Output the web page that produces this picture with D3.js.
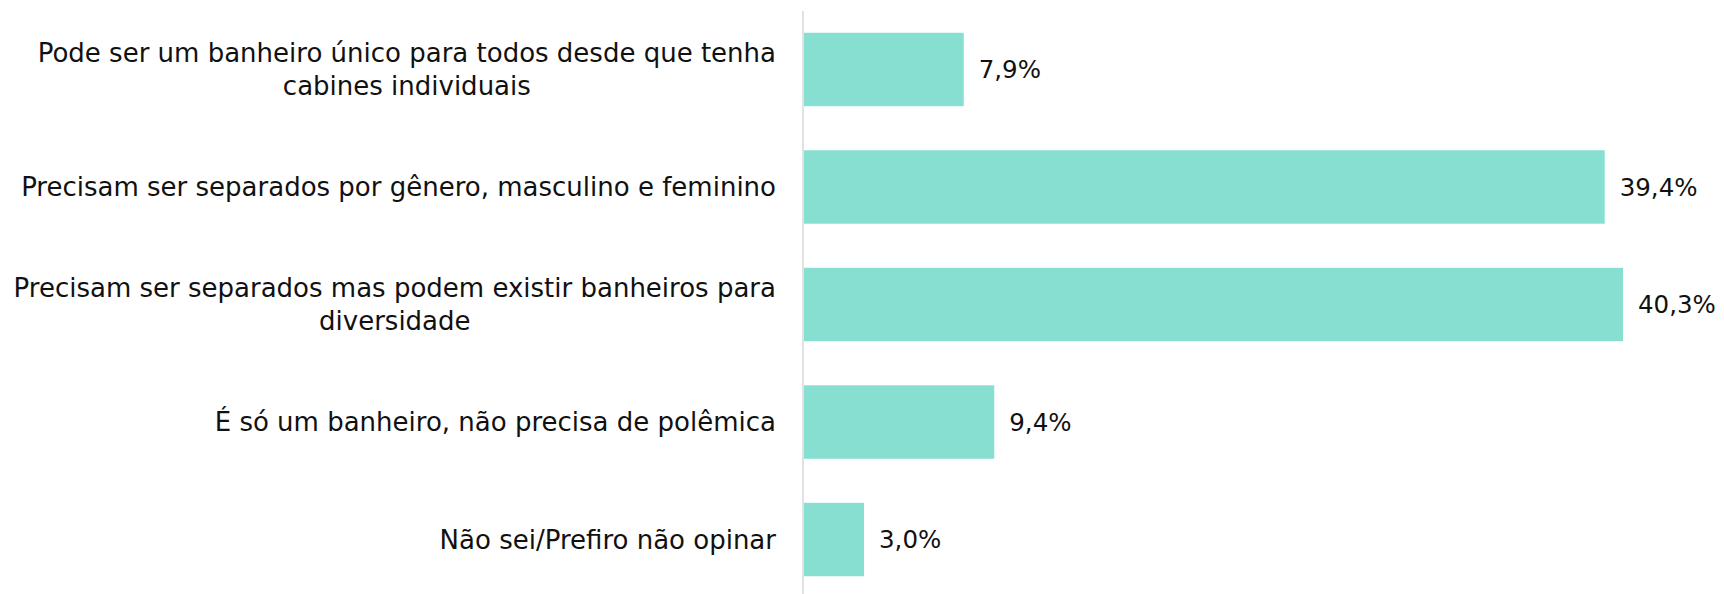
<!DOCTYPE html>
<html>
<head>
<meta charset="utf-8">
<script src="https://cdn.jsdelivr.net/npm/d3@7"></script>
<style>
  body { margin: 0; background: #fff; }
</style>
</head>
<body>
<div id="bar-chart"></div>
<script>
// Data
const categories = [
  ["Pode ser um banheiro único para todos desde que tenha", "cabines individuais"],
  ["Precisam ser separados por gênero, masculino e feminino"],
  ["Precisam ser separados mas podem existir banheiros para", "diversidade"],
  ["É só um banheiro, não precisa de polêmica"],
  ["Não sei/Prefiro não opinar"]
];
const values = [7.9, 39.4, 40.3, 9.4, 3.0];
const valueLabels = ["7,9%", "39,4%", "40,3%", "9,4%", "3,0%"];

const width = 1724, height = 594;
const axisX = 803;
const fontFamily = "'DejaVu Sans', sans-serif";

const svg = d3.select("#bar-chart")
    .append("svg")
    .attr("width", width)
    .attr("height", height);

const rows = values.map((v, i) => ({i: i, v: v, lines: categories[i], label: valueLabels[i]}));

// Scales
const x = d3.scaleLinear()
    .domain([0, 40.3])
    .range([axisX, 1623]);

const y = d3.scaleBand()
    .domain(d3.range(values.length))
    .range([21, 588])
    .paddingInner(0.375)
    .paddingOuter(0.1);

// Vertical axis line
svg.append("line")
    .attr("x1", axisX)
    .attr("x2", axisX)
    .attr("y1", 11)
    .attr("y2", height)
    .attr("stroke", "#d9d9d9")
    .attr("stroke-width", 1.5);

// Bars
svg.selectAll("rect.bar")
    .data(rows)
    .join("rect")
    .attr("class", "bar")
    .attr("x", x(0) + 1)
    .attr("y", d => y(d.i))
    .attr("width", d => x(d.v) - x(0) - 1)
    .attr("height", y.bandwidth())
    .attr("fill", "#86dfd0");

// Value labels
svg.selectAll("text.value")
    .data(rows)
    .join("text")
    .attr("class", "value")
    .attr("x", d => x(d.v) + 15)
    .attr("y", d => y(d.i) + y.bandwidth() / 2)
    .attr("dy", "0.35em")
    .style("font-family", fontFamily)
    .style("font-size", "24.5px")
    .style("fill", "#111")
    .text(d => d.label);

// Category labels (right aligned block, lines centred within block)
const labelRight = axisX - 27;
const lineHeight = 33;
rows.forEach(d => {
  const g = svg.append("g");
  const cy = y(d.i) + y.bandwidth() / 2;
  const n = d.lines.length;
  const texts = d.lines.map((line, k) => g.append("text")
      .attr("y", cy + (k - (n - 1) / 2) * lineHeight)
      .attr("dy", "0.35em")
      .style("font-family", fontFamily)
      .style("font-size", "26px")
      .style("fill", "#111")
      .text(line));
  const maxW = d3.max(texts, t => t.node().getComputedTextLength());
  texts.forEach(t => t.attr("x", labelRight - maxW / 2).style("text-anchor", "middle"));
});
</script>
</body>
</html>
